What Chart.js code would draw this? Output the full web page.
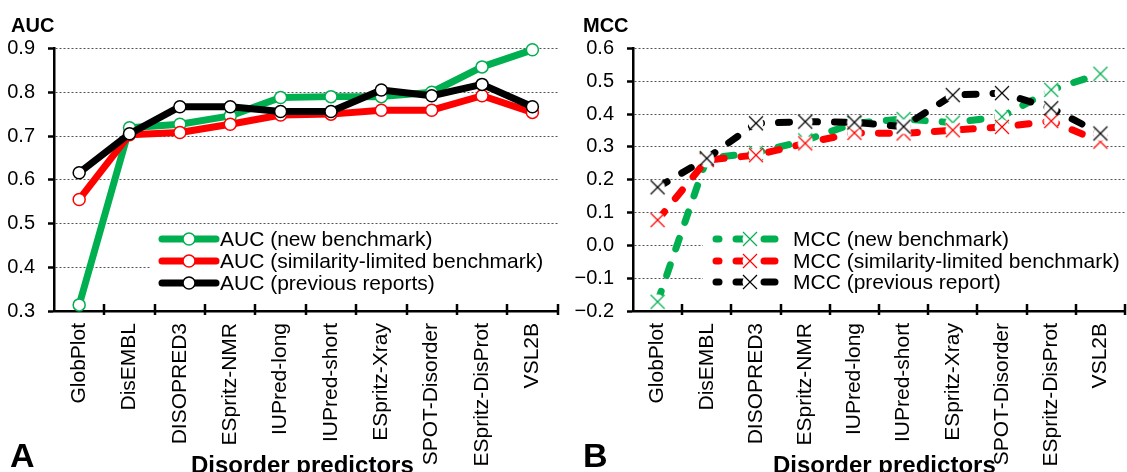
<!DOCTYPE html>
<html>
<head>
<meta charset="utf-8">
<script src="https://cdn.jsdelivr.net/npm/chart.js@4.4.1/dist/chart.umd.min.js"></script>
<style>
  html, body { margin: 0; padding: 0; background: #fff; }
  body { width: 1127px; height: 472px; overflow: hidden; position: relative; font-family: "Liberation Sans", Arial, sans-serif; }
  canvas { position: absolute; top: 0; }
  #aucChart { left: 0; }
  #mccChart { left: 570px; }
  .lbl { position: absolute; font-weight: bold; line-height: 1; white-space: nowrap; color: #000; }
</style>
</head>
<body>
<canvas id="aucChart" width="570" height="472"></canvas>
<canvas id="mccChart" width="570" height="472"></canvas>
<div class="lbl" style="left:11px;top:15px;font-size:20px">AUC</div>
<div class="lbl" style="left:583px;top:15px;font-size:20px">MCC</div>
<div class="lbl" style="left:10px;top:438px;font-size:34px">A</div>
<div class="lbl" style="left:583px;top:438px;font-size:34px">B</div>
<div class="lbl" style="left:191px;top:453px;font-size:24px">Disorder predictors</div>
<div class="lbl" style="left:773px;top:453px;font-size:24px">Disorder predictors</div>
<script>
/* ── Data ─────────────────────────────────────────────────── */
const predictors = ['GlobPlot', 'DisEMBL', 'DISOPRED3', 'ESpritz-NMR', 'IUPred-long',
    'IUPred-short', 'ESpritz-Xray', 'SPOT-Disorder', 'ESpritz-DisProt', 'VSL2B'];

const aucNew      = [0.314, 0.719, 0.727, 0.746, 0.788, 0.790, 0.790, 0.800, 0.858, 0.897];
const aucSimilar  = [0.555, 0.703, 0.708, 0.727, 0.748, 0.750, 0.759, 0.759, 0.792, 0.754];
const aucPrevious = [0.616, 0.705, 0.767, 0.767, 0.756, 0.756, 0.805, 0.792, 0.818, 0.767];

const mccNew      = [-0.172, 0.265, 0.282, 0.320, 0.372, 0.385, 0.374, 0.392, 0.474, 0.523];
const mccSimilar  = [0.077, 0.260, 0.275, 0.311, 0.343, 0.341, 0.351, 0.361, 0.379, 0.316];
const mccPrevious = [0.177, 0.265, 0.372, 0.377, 0.375, 0.362, 0.458, 0.464, 0.418, 0.341];

const aucTicks = ['0.3', '0.4', '0.5', '0.6', '0.7', '0.8', '0.9'];
const mccTicks = ['\u22120.2', '\u22120.1', '0.0', '0.1', '0.2', '0.3', '0.4', '0.5', '0.6'];

/* ── Palette ──────────────────────────────────────────────── */
const green = '#00B050';
const red   = '#FF0000';
const black = '#000000';
const FONT  = '"Liberation Sans", Arial, sans-serif';

Chart.defaults.font.family = FONT;
Chart.defaults.color = '#000';

// X marker sitting on a small white disc, like the Excel markers
function crossMarker(color) {
    const c = document.createElement('canvas');
    c.width = 20; c.height = 20;
    const g = c.getContext('2d');
    g.fillStyle = '#fff';
    g.beginPath(); g.arc(10, 10, 7.5, 0, Math.PI * 2); g.fill();
    g.strokeStyle = color; g.lineWidth = 1.2;
    g.beginPath();
    g.moveTo(3, 3); g.lineTo(17, 17);
    g.moveTo(17, 3); g.lineTo(3, 17);
    g.stroke();
    return c;
}

/* ── Plugins ──────────────────────────────────────────────── */
const crossTicks = {
    id: 'crossTicks',
    afterDraw(chart) {
        const xs = chart.scales.x;
        const n = xs.ticks.length;
        const step = (xs.right - xs.left) / n;
        const ctx = chart.ctx;
        ctx.save();
        ctx.strokeStyle = '#000';
        ctx.lineWidth = 2.5;
        ctx.beginPath();
        for (let i = 1; i <= n; i++) {
            const x = Math.round(xs.left + i * step);
            ctx.moveTo(x, xs.top - 7);
            ctx.lineTo(x, xs.top + 4);
        }
        ctx.stroke();
        ctx.restore();
    }
};

const boxLegend = {
    id: 'boxLegend',
    afterDraw(chart, args, opts) {
        const ctx = chart.ctx;
        const [bx, by, bw, bh] = opts.box;
        ctx.save();
        ctx.fillStyle = '#fff';
        ctx.fillRect(bx, by, bw, bh);
        ctx.font = '21px ' + FONT;
        ctx.textBaseline = 'middle';
        chart.data.datasets.forEach((ds, i) => {
            const y = opts.rows[i];
            ctx.strokeStyle = ds.borderColor;
            ctx.lineWidth = ds.borderWidth;
            ctx.lineCap = 'round';
            ctx.setLineDash(ds.borderDash || []);
            ctx.lineDashOffset = opts.dashOffset || 0;
            ctx.beginPath();
            ctx.moveTo(opts.x1, y);
            ctx.lineTo(opts.x2, y);
            ctx.stroke();
            ctx.setLineDash([]);
            if (ds.pointStyle === 'circle') {
                ctx.fillStyle = '#fff';
                ctx.lineWidth = ds.pointBorderWidth;
                ctx.beginPath();
                ctx.arc(opts.mark, y, ds.pointRadius, 0, Math.PI * 2);
                ctx.fill();
                ctx.stroke();
            } else {
                const im = ds.pointStyle;
                ctx.drawImage(im, opts.mark - im.width / 2, y - im.height / 2);
            }
            ctx.fillStyle = '#000';
            ctx.fillText(ds.label, opts.textX, y + 1);
        });
        ctx.restore();
    }
};

/* ── Chart builder ────────────────────────────────────────── */
function buildChart(canvas, datasets, cfg) {
    return new Chart(canvas, {
        type: 'line',
        data: { labels: predictors, datasets },
        options: {
            responsive: false,
            animation: false,
            devicePixelRatio: 1,
            layout: { padding: { top: 48.5, right: cfg.padRight, left: 0, bottom: 0 } },
            plugins: {
                legend: { display: false },
                tooltip: { enabled: false },
                boxLegend: cfg.legend,
            },
            scales: {
                x: {
                    offset: true,
                    afterFit: s => { s.height = 161; },
                    grid: { display: false, drawTicks: false },
                    border: { color: '#000', width: 2.5 },
                    ticks: {
                        color: '#000', font: { size: 21 }, padding: 12,
                        maxRotation: 90, minRotation: 90, autoSkip: false,
                    },
                },
                y: {
                    min: cfg.min,
                    max: cfg.max,
                    afterFit: s => { s.width = cfg.yWidth; },
                    ticks: {
                        stepSize: 0.1, padding: 13, color: '#000', font: { size: 20 },
                        callback: (v, i) => cfg.tickLabels[i],
                    },
                    grid: {
                        color: '#555', lineWidth: 1,
                        tickColor: '#000', tickWidth: 2.5, tickLength: 6, tickBorderDash: [],
                    },
                    border: { color: '#000', width: 2.5, dash: [2, 2] },
                },
            },
        },
        plugins: [crossTicks, boxLegend],
    });
}

function aucSeries(label, data, color, order) {
    return {
        label, data, order,
        borderColor: color, borderWidth: 7, borderJoinStyle: 'round', borderCapStyle: 'round',
        pointStyle: 'circle', pointRadius: 6, pointBorderWidth: 1.5,
        pointBackgroundColor: '#fff', pointBorderColor: color,
        tension: 0, clip: false,
    };
}

function mccSeries(label, data, color, order) {
    return {
        label, data, order,
        borderColor: color, borderWidth: 7, borderDash: [11, 17],
        borderJoinStyle: 'round', borderCapStyle: 'round',
        pointStyle: crossMarker(color), pointRadius: 8,
        tension: 0, clip: false,
    };
}

/* ── AUC panel ────────────────────────────────────────────── */
buildChart(document.getElementById('aucChart'), [
    aucSeries('AUC (new benchmark)', aucNew, green, 2),
    aucSeries('AUC (similarity-limited benchmark)', aucSimilar, red, 1),
    aucSeries('AUC (previous reports)', aucPrevious, black, 0),
], {
    min: 0.3, max: 0.9, tickLabels: aucTicks, yWidth: 54, padRight: 8,
    legend: { box: [151, 227, 410, 72], rows: [239, 261, 283], x1: 162, x2: 216, mark: 189, textX: 220 },
});

/* ── MCC panel ────────────────────────────────────────────── */
buildChart(document.getElementById('mccChart'), [
    mccSeries('MCC (new benchmark)', mccNew, green, 2),
    mccSeries('MCC (similarity-limited benchmark)', mccSimilar, red, 1),
    mccSeries('MCC (previous report)', mccPrevious, black, 0),
], {
    min: -0.2, max: 0.6, tickLabels: mccTicks, yWidth: 63, padRight: 5,
    legend: { box: [133, 227, 437, 72], rows: [239, 261, 282], x1: 146, x2: 216, mark: 180, textX: 223, dashOffset: 8 },
});
</script>
</body>
</html>
